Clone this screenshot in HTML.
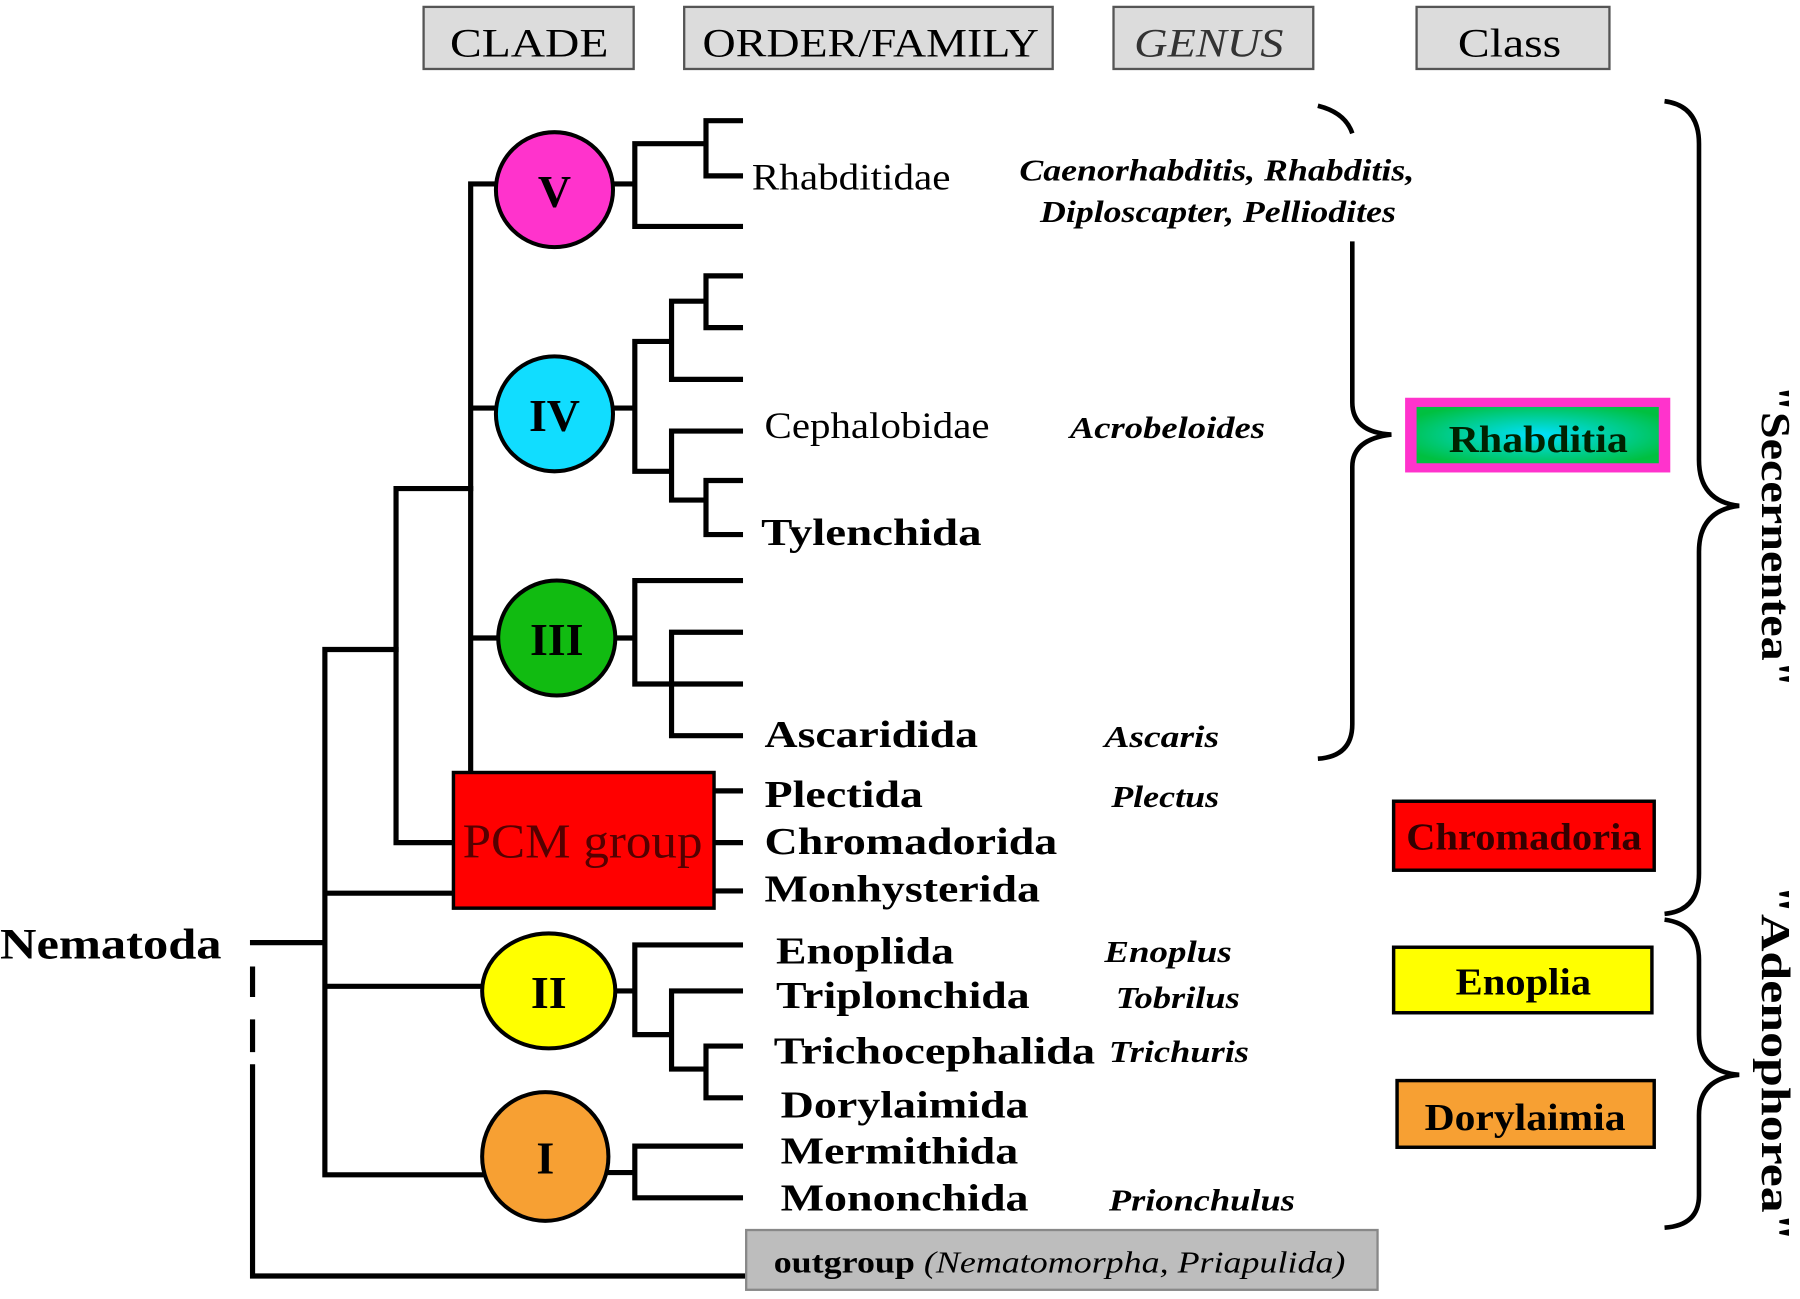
<!DOCTYPE html>
<html><head><meta charset="utf-8"><style>
html,body{margin:0;padding:0;background:#fff;}
svg{display:block;}
text{font-family:"Liberation Serif",serif;}
</style></head><body>
<svg width="1800" height="1299" viewBox="0 0 1568 1130" preserveAspectRatio="none" xmlns="http://www.w3.org/2000/svg">
<defs>
<radialGradient id="rg" cx="50%" cy="50%" r="60%"><stop offset="0" stop-color="#00e0ff"/><stop offset="1" stop-color="#00c040"/></radialGradient>
</defs>
<g font-size="35" fill="#000" lengthAdjust="spacingAndGlyphs">
<rect x="369" y="6" width="183" height="54" fill="#dcdcdc" stroke="#555" stroke-width="2"/>
<text x="392" y="49" textLength="138" lengthAdjust="spacingAndGlyphs">CLADE</text>
<rect x="596" y="6" width="321" height="54" fill="#dcdcdc" stroke="#555" stroke-width="2"/>
<text x="612" y="49" textLength="293" lengthAdjust="spacingAndGlyphs">ORDER/FAMILY</text>
<rect x="970" y="6" width="174" height="54" fill="#dcdcdc" stroke="#555" stroke-width="2"/>
<text x="988" y="49" textLength="130" lengthAdjust="spacingAndGlyphs" font-style="italic" fill="#333">GENUS</text>
<rect x="1234" y="6" width="168" height="54" fill="#dcdcdc" stroke="#555" stroke-width="2"/>
<text x="1270" y="49" textLength="90" lengthAdjust="spacingAndGlyphs">Class</text>
</g>
<g stroke="#000" stroke-width="4.5" fill="none" stroke-linecap="square">
<path d="M220 820H283 M283 565V1022 M283 565H345 M283 777H395 M283 858H420 M283 1022H420"/>
<path d="M220 843V865 M220 889V913 M220 928V1110H650"/>
<path d="M345 425V733 M345 425H410 M345 733H395"/>
<path d="M410 160V670 M410 160H432 M410 355H432 M410 555H435"/>
<path d="M622 688H645 M622 733H645 M622 775H645"/>
<path d="M535 160H553 M553 125V197 M553 125H615 M615 105V153 M615 105H645 M615 153H645 M553 197H645"/>
<path d="M535 355H553 M553 297V410 M553 297H585 M585 262V330 M585 262H615 M615 240V285 M615 240H645 M615 285H645 M585 330H645 M553 410H585 M585 375V435 M585 375H645 M585 435H615 M615 418V465 M615 418H645 M615 465H645"/>
<path d="M537 555H553 M553 505V595 M553 505H645 M553 595H585 M585 550V640 M585 550H645 M585 595H645 M585 640H645"/>
<path d="M537 862H553 M553 822V900 M553 822H645 M553 900H585 M585 862V930 M585 862H645 M585 930H615 M615 910V955 M615 910H645 M615 955H645"/>
<path d="M530 1020H553 M553 997V1042 M553 997H645 M553 1042H645"/>
</g>
<g stroke="#000" stroke-width="3.5" font-weight="bold" font-size="40" text-anchor="middle">
<ellipse cx="483" cy="165" rx="51" ry="50" fill="#ff33cc"/>
<text x="483" y="180" stroke="none">V</text>
<ellipse cx="483" cy="360" rx="51" ry="50" fill="#11ddff"/>
<text x="483" y="375" stroke="none">IV</text>
<ellipse cx="485" cy="555" rx="51" ry="50" fill="#11bb11"/>
<text x="485" y="570" stroke="none">III</text>
<ellipse cx="478" cy="862" rx="58" ry="50" fill="#ffff00"/>
<text x="478" y="877" stroke="none">II</text>
<ellipse cx="475" cy="1006" rx="55" ry="56" fill="#f7a033"/>
<text x="475" y="1021" stroke="none">I</text>
<rect x="395" y="672" width="227" height="118" fill="#ff0000" stroke-width="3"/>
</g>
<text x="403" y="746" font-size="42" fill="#550000" textLength="209" lengthAdjust="spacingAndGlyphs">PCM group</text>
<text x="0" y="834" font-size="38" font-weight="bold" textLength="193" lengthAdjust="spacingAndGlyphs">Nematoda</text>
<g font-size="33" font-weight="bold">
<text x="655" y="165" font-weight="normal" font-size="32" textLength="173" lengthAdjust="spacingAndGlyphs">Rhabditidae</text>
<text x="666" y="381" font-weight="normal" font-size="32" textLength="196" lengthAdjust="spacingAndGlyphs">Cephalobidae</text>
<text x="663" y="474" textLength="192" lengthAdjust="spacingAndGlyphs">Tylenchida</text>
<text x="666" y="650" textLength="186" lengthAdjust="spacingAndGlyphs">Ascaridida</text>
<text x="666" y="702" textLength="138" lengthAdjust="spacingAndGlyphs">Plectida</text>
<text x="666" y="743" textLength="255" lengthAdjust="spacingAndGlyphs">Chromadorida</text>
<text x="666" y="784" textLength="240" lengthAdjust="spacingAndGlyphs">Monhysterida</text>
<text x="676" y="838" textLength="155" lengthAdjust="spacingAndGlyphs">Enoplida</text>
<text x="676" y="877" textLength="221" lengthAdjust="spacingAndGlyphs">Triplonchida</text>
<text x="674" y="925" textLength="280" lengthAdjust="spacingAndGlyphs">Trichocephalida</text>
<text x="680" y="972" textLength="216" lengthAdjust="spacingAndGlyphs">Dorylaimida</text>
<text x="680" y="1012" textLength="207" lengthAdjust="spacingAndGlyphs">Mermithida</text>
<text x="680" y="1053" textLength="216" lengthAdjust="spacingAndGlyphs">Mononchida</text>
</g>
<g font-size="27" font-weight="bold" font-style="italic">
<text x="888" y="157" textLength="344" lengthAdjust="spacingAndGlyphs">Caenorhabditis, Rhabditis,</text>
<text x="906" y="193" textLength="310" lengthAdjust="spacingAndGlyphs">Diploscapter, Pelliodites</text>
<text x="932" y="381" textLength="170" lengthAdjust="spacingAndGlyphs">Acrobeloides</text>
<text x="962" y="650" textLength="100" lengthAdjust="spacingAndGlyphs">Ascaris</text>
<text x="968" y="702" textLength="94" lengthAdjust="spacingAndGlyphs">Plectus</text>
<text x="962" y="837" textLength="111" lengthAdjust="spacingAndGlyphs">Enoplus</text>
<text x="972" y="877" textLength="108" lengthAdjust="spacingAndGlyphs">Tobrilus</text>
<text x="966" y="924" textLength="122" lengthAdjust="spacingAndGlyphs">Trichuris</text>
<text x="966" y="1053" textLength="162" lengthAdjust="spacingAndGlyphs">Prionchulus</text>
</g>
<g stroke="#000" stroke-width="4" fill="none">
<path d="M1148 92 Q1172 98 1178 116"/>
<path d="M1178 210 V350 Q1178 376 1212 378 Q1178 382 1178 406 V630 Q1178 658 1148 660"/>
<path d="M1450 88 Q1480 92 1480 125 V400 Q1480 436 1515 440 Q1480 444 1480 480 V760 Q1480 792 1450 795"/>
<path d="M1450 800 Q1480 804 1480 835 V900 Q1480 932 1515 935 Q1480 938 1480 970 V1040 Q1480 1066 1450 1068"/>
</g>
<g font-size="33" font-weight="bold">
<rect x="1224" y="346" width="231" height="65" fill="#ff33cc"/>
<rect x="1234" y="354" width="211" height="49" fill="url(#rg)"/>
<text x="1262" y="393" fill="#002200" textLength="156" lengthAdjust="spacingAndGlyphs">Rhabditia</text>
<rect x="1214" y="697" width="227" height="60" fill="#ff0000" stroke="#000" stroke-width="3"/>
<text x="1225" y="739" fill="#330000" textLength="205" lengthAdjust="spacingAndGlyphs">Chromadoria</text>
<rect x="1214" y="824" width="225" height="57" fill="#ffff00" stroke="#000" stroke-width="3"/>
<text x="1268" y="865" textLength="118" lengthAdjust="spacingAndGlyphs">Enoplia</text>
<rect x="1217" y="940" width="224" height="58" fill="#f7a033" stroke="#000" stroke-width="3"/>
<text x="1241" y="983" textLength="175" lengthAdjust="spacingAndGlyphs">Dorylaimia</text>
</g>
<text transform="translate(1535 335) rotate(90)" font-size="36" font-weight="bold" textLength="263" lengthAdjust="spacingAndGlyphs">"Secernentea"</text>
<text transform="translate(1535 770) rotate(90)" font-size="36" font-weight="bold" textLength="310" lengthAdjust="spacingAndGlyphs">"Adenophorea"</text>
<g>
<rect x="650" y="1070" width="550" height="52" fill="#bdbdbd" stroke="#888" stroke-width="2"/>
<text x="674" y="1107" font-size="27" textLength="498" lengthAdjust="spacingAndGlyphs"><tspan font-weight="bold">outgroup</tspan> <tspan font-style="italic">(Nematomorpha, Priapulida)</tspan></text>
</g>
</svg>
</body></html>
